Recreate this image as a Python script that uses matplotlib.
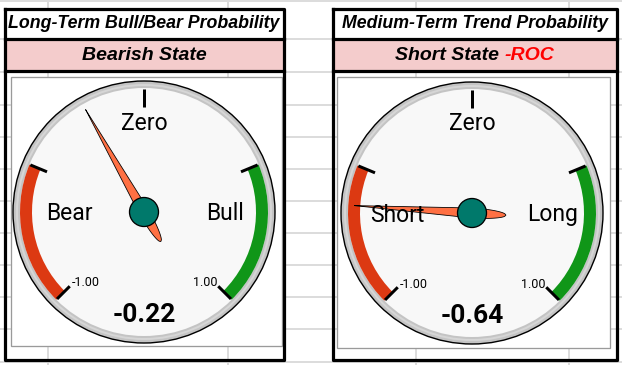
import numpy as np
import matplotlib
matplotlib.use("Agg")
import matplotlib.pyplot as plt
from matplotlib.patches import Rectangle, Circle, Wedge, Polygon

W, H = 622, 365
PX = 0.72  # points per pixel at dpi 100

# chart content
titles = ["Long-Term Bull/Bear Probability", "Medium-Term Trend Probability"]
states = ["Bearish State", "Short State "]
state_suffix = ["", "-ROC"]
low_labels = ["Bear", "Short"]
high_labels = ["Bull", "Long"]
mid_label = "Zero"
values = [-0.22, -0.64]
tick_values = [-1.0, -0.5, 0.0, 0.5, 1.0]
red_band = (-1.0, -0.5)
green_band = (0.5, 1.0)

# spreadsheet gridlines (pixel positions)
grid_x = [48, 228, 416, 569]
grid_y = [0.5, 39, 72, 105, 137, 169, 201, 233, 265, 297, 329, 362]

# layout
panel_x = [(4.5, 283.5), (332.5, 616.5)]
inner_box = [(10.5, 77, 281.5, 345.5), (337, 77, 610, 347.5)]
centers = [(144, 212), (472, 213)]
R = 131

HEAD_FONT = ["Liberation Sans", "DejaVu Sans"]
GAUGE_FONT = ["Roboto", "DejaVu Sans"]


def Y(y):
    return H - y


def ang(v):
    return 90 - v * 135


fig = plt.figure(figsize=(W / 100, H / 100), dpi=100)
ax = fig.add_axes([0, 0, 1, 1])
ax.set_xlim(0, W)
ax.set_ylim(0, H)
ax.axis("off")

for gx in grid_x:
    ax.plot([gx, gx], [0, H], color="#dcdcdc", lw=2 * PX, zorder=0)
for gy in grid_y:
    ax.plot([0, W], [Y(gy), Y(gy)], color="#dcdcdc", lw=2 * PX, zorder=0)

fig.canvas.draw()
renderer = fig.canvas.get_renderer()

for i in range(2):
    x0, x1 = panel_x[i]
    xm = (x0 + x1) / 2
    # title row and state row
    ax.add_patch(Rectangle((x0, Y(39)), x1 - x0, 39 - 8.5, facecolor="white", edgecolor="none", zorder=1))
    ax.add_patch(Rectangle((x0, Y(71)), x1 - x0, 71 - 39, facecolor="#f4cccc", edgecolor="none", zorder=1))
    # inner chart box
    bx0, by0, bx1, by1 = inner_box[i]
    ax.add_patch(Rectangle((bx0, Y(by1)), bx1 - bx0, by1 - by0, facecolor="white",
                           edgecolor="#9a9a9a", lw=1.3 * PX, zorder=1))
    # black borders
    border = dict(color="black", lw=3.2 * PX, zorder=5, solid_capstyle="projecting")
    ax.plot([x0, x1, x1, x0, x0], [Y(8.5), Y(8.5), Y(360), Y(360), Y(8.5)], **border)
    ax.plot([x0, x1], [Y(39), Y(39)], **border)
    ax.plot([x0, x1], [Y(71), Y(71)], **border)

    ax.text(xm, Y(23.5), titles[i], ha="center", va="center", fontsize=12.8,
            fontweight="bold", fontstyle="italic", family=HEAD_FONT, zorder=6)
    if state_suffix[i]:
        t1 = ax.text(0, Y(55.5), states[i], ha="left", va="center", fontsize=14,
                     fontweight="bold", fontstyle="italic", family=HEAD_FONT, zorder=6)
        t2 = ax.text(0, Y(55.5), state_suffix[i], ha="left", va="center", fontsize=14,
                     fontweight="bold", fontstyle="italic", family=HEAD_FONT, color="#ff0000", zorder=6)
        w1 = t1.get_window_extent(renderer).width
        w2 = t2.get_window_extent(renderer).width
        tot = (w1 + w2) * W / fig.bbox.width
        start = xm - tot / 2
        t1.set_x(start)
        t2.set_x(start + w1 * W / fig.bbox.width)
    else:
        ax.text(xm, Y(55.5), states[i], ha="center", va="center", fontsize=14,
                fontweight="bold", fontstyle="italic", family=HEAD_FONT, zorder=6)

    # gauge
    cx, cy = centers[i]
    cy = Y(cy)
    ax.add_patch(Circle((cx, cy), R, facecolor="#c4c4c4", edgecolor="black", lw=1.4 * PX, zorder=2))
    ax.add_patch(Circle((cx, cy), R - 4, facecolor="none", edgecolor="#d6d6d6", lw=2 * PX, zorder=2))
    ax.add_patch(Circle((cx, cy), R - 7, facecolor="#f8f8f8", edgecolor="none", zorder=2))
    ax.add_patch(Wedge((cx, cy), R - 7, ang(red_band[1]), ang(red_band[0]), width=12,
                       facecolor="#dc3912", edgecolor="none", zorder=3))
    ax.add_patch(Wedge((cx, cy), R - 7, ang(green_band[1]), ang(green_band[0]), width=12,
                       facecolor="#109618", edgecolor="none", zorder=3))
    for tv in tick_values:
        a = np.radians(ang(tv))
        ax.plot([cx + 105 * np.cos(a), cx + 123 * np.cos(a)],
                [cy + 105 * np.sin(a), cy + 123 * np.sin(a)],
                color="black", lw=3 * PX, zorder=4, solid_capstyle="butt")

    ax.text(cx - 72, cy - 71, "%.2f" % tick_values[0], ha="left", va="center",
            fontsize=9, family=GAUGE_FONT, zorder=8)
    ax.text(cx + 74, cy - 71, "%.2f" % tick_values[-1], ha="right", va="center",
            fontsize=9, family=GAUGE_FONT, zorder=8)
    ax.text(cx, cy + 89, mid_label, ha="center", va="center", fontsize=16.5,
            family=GAUGE_FONT, zorder=8)
    ax.text(cx - 75, cy - 2, low_labels[i], ha="center", va="center", fontsize=16.5,
            family=GAUGE_FONT, zorder=8)
    ax.text(cx + 81, cy - 2, high_labels[i], ha="center", va="center", fontsize=16.5,
            family=GAUGE_FONT, zorder=8)
    ax.text(cx, cy - 103, "%.2f" % values[i], ha="center", va="center", fontsize=19,
            fontweight="bold", family=GAUGE_FONT, zorder=8)

    # needle
    th = np.radians(ang(values[i]))
    u_front = np.linspace(118, 0, 30)
    w_front = 5 * (1 - u_front / 118)
    u_back = np.linspace(0, -34, 30)
    w_back = 5 * np.sqrt(np.clip(1 - (u_back / 34) ** 2, 0, 1))
    u = np.concatenate([u_front, u_back])
    w = np.concatenate([w_front, w_back])
    u_all = np.concatenate([u, u[::-1]])
    v_all = np.concatenate([w, -w[::-1]])
    px = cx + u_all * np.cos(th) - v_all * np.sin(th)
    py = cy + u_all * np.sin(th) + v_all * np.cos(th)
    ax.add_patch(Polygon(np.column_stack([px, py]), closed=True, facecolor="#ff7043",
                         edgecolor="black", lw=0.8 * PX, zorder=6))
    ax.add_patch(Circle((cx, cy), 14.5, facecolor="#00796b", edgecolor="black", lw=1.3 * PX, zorder=7))

fig.savefig("out.png", dpi=100)
